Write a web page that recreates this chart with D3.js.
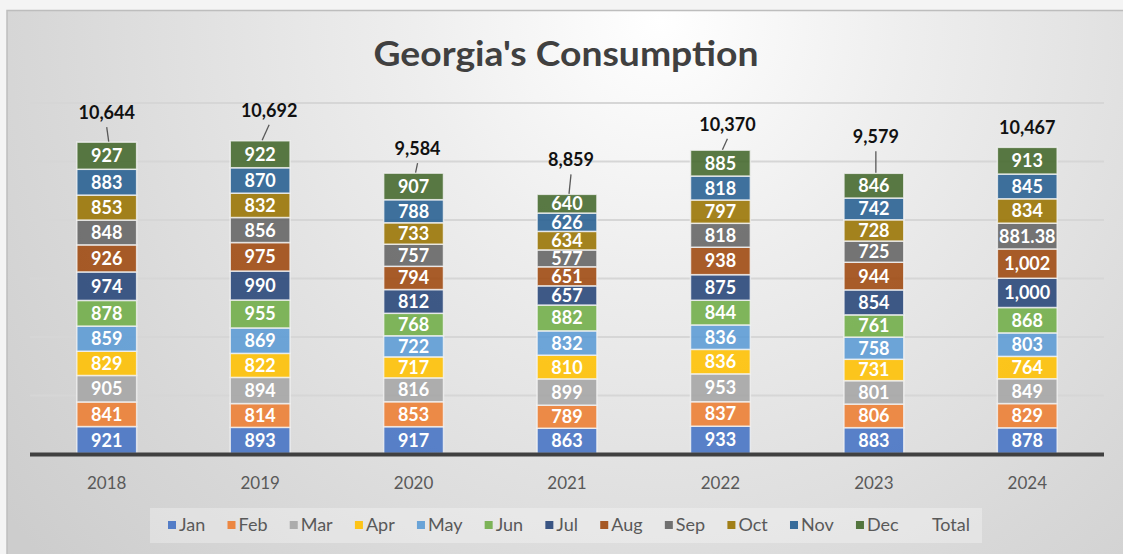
<!DOCTYPE html>
<html>
<head>
<meta charset="utf-8">
<script src="https://cdn.jsdelivr.net/npm/d3@7"></script>
<style>
  body { margin: 0; background: #f4f4f4; }
  svg { display: block; font-family: Lato, "Open Sans", sans-serif; }
</style>
</head>
<body>
<svg width="1123" height="554"></svg>
<script>
const width = 1123;
const height = 554;

const years = ['2018', '2019', '2020', '2021', '2022', '2023', '2024'];
const months = ['Jan', 'Feb', 'Mar', 'Apr', 'May', 'Jun', 'Jul', 'Aug', 'Sep', 'Oct', 'Nov', 'Dec'];

// one array per month, values for 2018..2024
const jan = [921, 893, 917, 863, 933, 883, 878];
const feb = [841, 814, 853, 789, 837, 806, 829];
const mar = [905, 894, 816, 899, 953, 801, 849];
const apr = [829, 822, 717, 810, 836, 731, 764];
const may = [859, 869, 722, 832, 836, 758, 803];
const jun = [878, 955, 768, 882, 844, 761, 868];
const jul = [974, 990, 812, 657, 875, 854, 1000];
const aug = [926, 975, 794, 651, 938, 944, 1002];
const sep = [848, 856, 757, 577, 818, 725, 881.38];
const oct = [853, 832, 733, 634, 797, 728, 834];
const nov = [883, 870, 788, 626, 818, 742, 845];
const dec = [927, 922, 907, 640, 885, 846, 913];
const totals = [10644, 10692, 9584, 8859, 10370, 9579, 10467];

const yTicks = [0, 2000, 4000, 6000, 8000, 10000, 12000];

const colors = ['#4472C4', '#ED7D31', '#A5A5A5', '#FFC000', '#5B9BD5', '#70AD47',
                '#264478', '#9E480E', '#636363', '#997300', '#255E91', '#43682B'];

// manual placement of the total labels (dx from bar centre, dy from bar top)
const totalOffsets = [[0, -23], [9, -24], [4, -18], [4, -28], [7, -19.5], [2, -30], [0, -13]];
const showLeader = [true, true, true, true, true, true, false];

const series = [jan, feb, mar, apr, may, jun, jul, aug, sep, oct, nov, dec];
const table = years.map((yr, i) => {
  const row = { year: yr };
  months.forEach((m, j) => { row[m] = series[j][i]; });
  return row;
});

const stacked = d3.stack().keys(months)(table);

const x = d3.scaleBand()
  .domain(years)
  .range([30, 1104])
  .paddingInner(0.61)
  .paddingOuter(0.305);

const y = d3.scaleLinear()
  .domain([0, 12000])
  .range([453.5, 102.5]);

const color = d3.scaleOrdinal().domain(months).range(colors);

const svg = d3.select('svg');
const defs = svg.append('defs');

const bg = defs.append('radialGradient')
  .attr('id', 'bg')
  .attr('gradientUnits', 'userSpaceOnUse')
  .attr('cx', 660).attr('cy', 20).attr('r', 820);
bg.append('stop').attr('offset', 0).attr('stop-color', '#ffffff');
bg.append('stop').attr('offset', 0.3).attr('stop-color', '#eeeeee');
bg.append('stop').attr('offset', 0.75).attr('stop-color', '#d8d8d8');
bg.append('stop').attr('offset', 1).attr('stop-color', '#cdcdcd');

const gridGrad = defs.append('linearGradient')
  .attr('id', 'gridGrad')
  .attr('gradientUnits', 'userSpaceOnUse')
  .attr('x1', 0).attr('y1', 100).attr('x2', 0).attr('y2', 400);
gridGrad.append('stop').attr('offset', 0).attr('stop-color', '#d6d6d6');
gridGrad.append('stop').attr('offset', 1).attr('stop-color', '#8c8c8c');

// chart area
svg.append('rect')
  .attr('x', 7).attr('y', 10.5)
  .attr('width', width).attr('height', height)
  .attr('fill', 'url(#bg)')
  .attr('stroke', '#bdbdbd')
  .attr('stroke-width', 1.5);

svg.append('text')
  .attr('x', 566).attr('y', 66)
  .attr('text-anchor', 'middle')
  .attr('font-size', 34)
  .attr('font-weight', 'bold')
  .attr('fill', '#404040')
  .attr('textLength', 385)
  .attr('lengthAdjust', 'spacingAndGlyphs')
  .text("Georgia's Consumption");

// gridlines
const grid = svg.append('g')
  .attr('transform', 'translate(30,0)')
  .call(d3.axisLeft(y).tickValues(yTicks.slice(1)).tickSize(-1074).tickFormat(''));
grid.select('.domain').remove();
grid.selectAll('.tick line')
  .attr('stroke', 'url(#gridGrad)')
  .attr('stroke-width', 2);

// stacked bars
const layers = svg.append('g')
  .selectAll('g')
  .data(stacked)
  .join('g')
    .attr('fill', d => color(d.key))
    .attr('fill-opacity', 0.88);

layers.selectAll('rect')
  .data(d => d)
  .join('rect')
    .attr('x', d => x(d.data.year))
    .attr('y', d => y(d[1]))
    .attr('width', x.bandwidth())
    .attr('height', d => y(d[0]) - y(d[1]))
    .attr('stroke', '#f2f2f2')
    .attr('stroke-opacity', 0.8)
    .attr('stroke-width', 1.5);

const fmt = v => Number.isInteger(v) ? d3.format(',')(v) : String(v);

svg.append('g')
  .selectAll('g')
  .data(stacked)
  .join('g')
  .selectAll('text')
  .data(d => d.map(p => ({ p, key: d.key })))
  .join('text')
    .attr('x', d => x(d.p.data.year) + x.bandwidth() / 2)
    .attr('y', d => (y(d.p[0]) + y(d.p[1])) / 2)
    .attr('dy', '0.36em')
    .attr('text-anchor', 'middle')
    .attr('font-size', 18)
    .attr('font-weight', 'bold')
    .attr('fill', '#ffffff')
    .text(d => fmt(d.p.data[d.key]));

// axis
const xAxis = svg.append('g')
  .attr('transform', 'translate(0,454.5)')
  .call(d3.axisBottom(x).tickSize(0).tickPadding(0));
xAxis.select('.domain')
  .attr('d', 'M30,0H1104')
  .attr('stroke', '#404040')
  .attr('stroke-width', 4);
xAxis.selectAll('text')
  .attr('y', 34)
  .attr('dy', 0)
  .attr('font-family', 'Lato, sans-serif')
  .attr('font-size', 17)
  .attr('fill', '#595959');

// totals with leader lines
const topOf = i => y(d3.sum(series, s => s[i]));
const totalG = svg.append('g');
totalG.selectAll('line')
  .data(years.filter((yr, i) => showLeader[i]))
  .join('line')
    .attr('x1', yr => { const i = years.indexOf(yr); return x(yr) + x.bandwidth() / 2 + totalOffsets[i][0]; })
    .attr('y1', yr => { const i = years.indexOf(yr); return topOf(i) + totalOffsets[i][1] + 8; })
    .attr('x2', yr => x(yr) + x.bandwidth() / 2 + 2)
    .attr('y2', yr => topOf(years.indexOf(yr)) - 0.5)
    .attr('stroke', '#595959')
    .attr('stroke-width', 1.3);

totalG.selectAll('text')
  .data(totals)
  .join('text')
    .attr('x', (d, i) => x(years[i]) + x.bandwidth() / 2 + totalOffsets[i][0])
    .attr('y', (d, i) => topOf(i) + totalOffsets[i][1])
    .attr('text-anchor', 'middle')
    .attr('font-size', 18)
    .attr('font-weight', 'bold')
    .attr('fill', '#111111')
    .text(d => d3.format(',')(d));

// legend
svg.append('rect')
  .attr('x', 150).attr('y', 508)
  .attr('width', 832).attr('height', 35)
  .attr('fill', '#ffffff')
  .attr('fill-opacity', 0.3);

const legendKeys = months.concat(['Total']);
const items = svg.append('g')
  .selectAll('g')
  .data(legendKeys)
  .join('g');
items.append('rect')
  .attr('width', 8).attr('height', 8)
  .attr('y', -10)
  .attr('fill', d => d === 'Total' ? 'none' : color(d))
  .attr('fill-opacity', 0.9);
items.append('text')
  .attr('x', 11)
  .attr('font-size', 18)
  .attr('fill', '#595959')
  .text(d => d);

const widths = [];
items.each(function () { widths.push(d3.select(this).select('text').node().getComputedTextLength()); });
const gap = (970 - 168 - d3.sum(widths, w => w + 11)) / (legendKeys.length - 1);
let lx = 168;
items.each(function (d, i) {
  d3.select(this).attr('transform', `translate(${lx},531)`);
  lx += 11 + widths[i] + gap;
});
</script>
</body>
</html>
